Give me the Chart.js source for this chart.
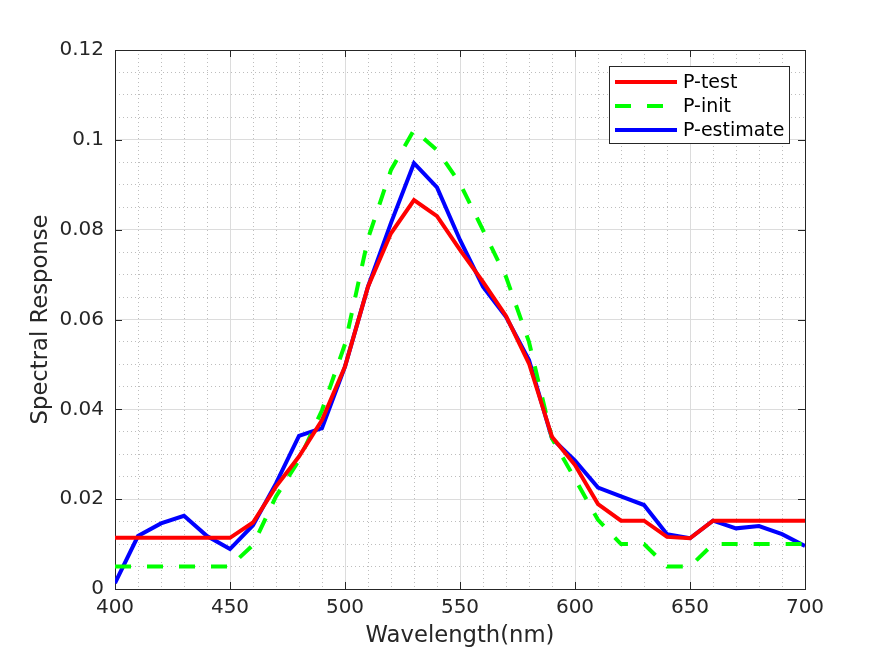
<!DOCTYPE html>
<html>
<head>
<meta charset="utf-8">
<script src="https://cdn.jsdelivr.net/npm/chart.js@4.4.1/dist/chart.umd.min.js"></script>
<style>
html,body{margin:0;padding:0;background:#fff;}
#wrap{width:891px;height:662px;}
</style>
</head>
<body>
<div id="wrap"><canvas id="c" width="891" height="662"></canvas></div>
<script>
const wavelengths = [400,410,420,430,440,450,460,470,480,490,500,510,520,530,540,550,560,570,580,590,600,610,620,630,640,650,660,670,680,690,700];
const pTest = [0.0114,0.0114,0.0114,0.0114,0.0114,0.0114,0.0148,0.0228,0.0295,0.0376,0.0495,0.0673,0.0792,0.0866,0.0830,0.0755,0.0684,0.0608,0.0502,0.0339,0.0276,0.0189,0.0152,0.0152,0.0116,0.0113,0.0152,0.0152,0.0152,0.0152,0.0152];
const pInit = [0.0050,0.0050,0.0050,0.0050,0.0050,0.0050,0.0098,0.0206,0.0287,0.0398,0.0545,0.0780,0.0933,0.1022,0.0977,0.0903,0.0799,0.0695,0.0550,0.0335,0.0245,0.0154,0.0100,0.0100,0.0050,0.0050,0.0100,0.0100,0.0100,0.0100,0.0100];
const pEstimate = [0.0013,0.0118,0.0146,0.0163,0.0118,0.0089,0.0142,0.0235,0.0341,0.0358,0.0495,0.0673,0.0815,0.0948,0.0894,0.0777,0.0673,0.0606,0.0510,0.0335,0.0286,0.0226,0.0206,0.0187,0.0122,0.0113,0.0152,0.0135,0.0140,0.0122,0.0096];
const seriesNames = ['P-test','P-init','P-estimate'];
const xTickLabels = ['400','450','500','550','600','650','700'];
const yTickLabels = ['0','0.02','0.04','0.06','0.08','0.1','0.12'];
const xTitle = 'Wavelength(nm)';
const yTitle = 'Spectral Response';

const FONT = 'DejaVu Sans';
const TXT = '#262626';

function pts(arr){ return wavelengths.map((w,i)=>({x:w,y:arr[i]})); }

const boxTicks = {
  id:'boxTicks',
  beforeDatasetsDraw(chart){
    const {ctx, chartArea:a, scales} = chart;
    ctx.save();
    ctx.strokeStyle = TXT;
    ctx.lineWidth = 1;
    const L = 7;
    ctx.beginPath();
    xTickLabels.forEach(t=>{
      const x = Math.round(scales.x.getPixelForValue(parseFloat(t)))+0.5;
      ctx.moveTo(x,a.bottom); ctx.lineTo(x,a.bottom-L);
      ctx.moveTo(x,a.top); ctx.lineTo(x,a.top+L);
    });
    yTickLabels.forEach(t=>{
      const y = Math.round(scales.y.getPixelForValue(parseFloat(t)))+0.5;
      ctx.moveTo(a.left,y); ctx.lineTo(a.left+L,y);
      ctx.moveTo(a.right,y); ctx.lineTo(a.right-L,y);
    });
    ctx.stroke();
    ctx.strokeRect(Math.round(a.left)+0.5, Math.round(a.top)+0.5, Math.round(a.right-a.left), Math.round(a.bottom-a.top));
    ctx.restore();
  }
};

const legendBox = {
  id:'legendBox',
  afterDatasetsDraw(chart){
    const {ctx} = chart;
    const bx=609.5, by=66.5, bw=180, bh=77;
    ctx.save();
    ctx.fillStyle='#fff';
    ctx.fillRect(bx,by,bw,bh);
    ctx.strokeStyle=TXT; ctx.lineWidth=1;
    ctx.strokeRect(bx,by,bw,bh);
    ctx.font = '19px "'+FONT+'"';
    ctx.textBaseline='middle';
    ctx.fillStyle='#000';
    chart.data.datasets.forEach((ds,i)=>{
      const y = 82 + i*24;
      ctx.strokeStyle = ds.borderColor;
      ctx.lineWidth = ds.borderWidth;
      ctx.setLineDash(ds.borderDash||[]);
      ctx.lineCap='butt';
      ctx.beginPath(); ctx.moveTo(615,y); ctx.lineTo(677,y); ctx.stroke();
      ctx.setLineDash([]);
      ctx.fillText(ds.label, 683, y+1);
    });
    ctx.restore();
  }
};

new Chart(document.getElementById('c'), {
  type:'line',
  data:{
    datasets:[
      {label:seriesNames[0], data:pts(pTest), borderColor:'#ff0000', borderWidth:4, pointRadius:0, tension:0, xAxisID:'x', yAxisID:'y'},
      {label:seriesNames[1], data:pts(pInit), borderColor:'#00ff00', borderWidth:4, borderDash:[16,16], pointRadius:0, tension:0, xAxisID:'x', yAxisID:'y'},
      {label:seriesNames[2], data:pts(pEstimate), borderColor:'#0000ff', borderWidth:4, pointRadius:0, tension:0, xAxisID:'x', yAxisID:'y'}
    ]
  },
  options:{
    responsive:false,
    animation:false,
    layout:{padding:{top:50,right:86,left:0,bottom:0}},
    plugins:{legend:{display:false}, tooltip:{enabled:false}},
    scales:{
      x2:{type:'linear', position:'bottom', min:400, max:700,
        ticks:{display:false, stepSize:10}, grid:{drawTicks:false, color:'#bdbdbd', lineWidth:1},
        border:{display:false, dash:[1,3]}, afterFit(s){ s.height=0; }},
      y2:{type:'linear', position:'left', min:0, max:0.12,
        ticks:{display:false, stepSize:0.005}, grid:{drawTicks:false, color:'#bdbdbd', lineWidth:1},
        border:{display:false, dash:[1,3]}, afterFit(s){ s.width=0; }},
      x:{type:'linear', position:'bottom', min:400, max:700,
        afterBuildTicks(s){ s.ticks = xTickLabels.map(v=>({value:parseFloat(v)})); },
        ticks:{padding:7, color:TXT, font:{family:FONT, size:20}, maxRotation:0,
          callback(v){ const i = xTickLabels.findIndex(t=>parseFloat(t)===v); return i>=0?xTickLabels[i]:''; }},
        grid:{drawTicks:false, color:'#dcdcdc', lineWidth:1},
        border:{display:false},
        title:{display:true, text:xTitle, color:TXT, font:{family:FONT, size:22.7}, padding:{top:0,bottom:12}},
        afterFit(s){ s.height=73; }},
      y:{type:'linear', position:'left', min:0, max:0.12,
        afterBuildTicks(s){ s.ticks = yTickLabels.map(v=>({value:parseFloat(v)})); },
        ticks:{padding:11, color:TXT, font:{family:FONT, size:20},
          callback(v){ const i = yTickLabels.findIndex(t=>Math.abs(parseFloat(t)-v)<1e-9); return i>=0?yTickLabels[i]:''; }},
        grid:{drawTicks:false, color:'#dcdcdc', lineWidth:1},
        border:{display:false},
        title:{display:true, text:yTitle, color:TXT, font:{family:FONT, size:22.7}, padding:{top:27,bottom:0}},
        afterFit(s){ s.width=115; }}
    }
  },
  plugins:[boxTicks, legendBox]
});
</script>
</body>
</html>
